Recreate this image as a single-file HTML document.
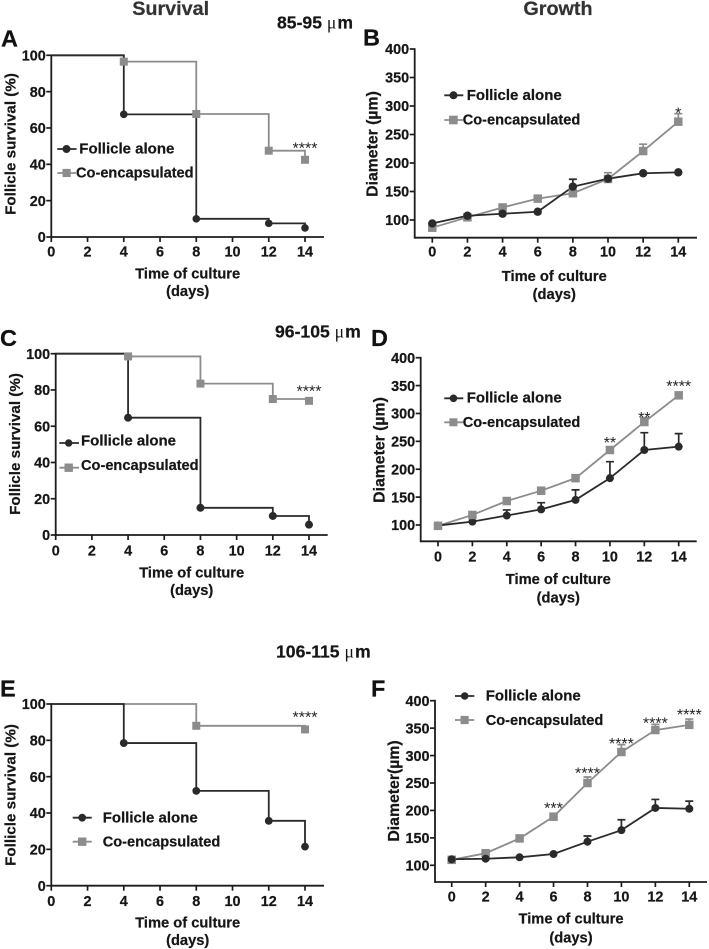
<!DOCTYPE html>
<html lang="en">
<head>
<meta charset="utf-8">
<title>Follicle survival and growth</title>
<style>
html,body{margin:0;padding:0;background:#fff;width:709px;height:949px;overflow:hidden}
svg{display:block;filter:blur(.3px)}
text{font-family:"Liberation Sans",Arial,sans-serif;font-weight:bold;fill:#161616;stroke:#161616;stroke-width:.22px}
.tick{font-size:14.4px}
.axt{font-size:14.7px;text-anchor:middle}
.yt{font-size:15.2px;text-anchor:middle}
.leg{font-size:15px}
.leg2{font-size:14.6px}
.let{font-size:23.5px;fill:#111;stroke:#111}
.head{font-size:19.8px;text-anchor:middle;fill:#333;stroke:#333}
.rng{font-size:17.6px}
.mu{font-family:"Liberation Serif",serif;font-weight:normal;stroke-width:0}
.sig{font-size:16px;font-weight:normal;text-anchor:middle;fill:#222;stroke-width:0}
.k{stroke:#2a2a2a;fill:#2a2a2a}
.g{stroke:#8c8c8c;fill:#8c8c8c}
.ll{stroke-width:1.8;fill:none}
</style>
</head>
<body>
<svg id="figure" width="709" height="949" viewBox="0 0 709 949" xmlns="http://www.w3.org/2000/svg">
  <text class="head" x="170.7" y="15">Survival</text>
  <text class="head" x="558" y="15">Growth</text>
  <text class="rng" x="277" y="28.3">85-95 <tspan class="mu">μ</tspan><tspan dx="1">m</tspan></text>
  <text class="rng" x="275" y="337.3">96-105 <tspan class="mu">μ</tspan><tspan dx="1">m</tspan></text>
  <text class="rng" x="276" y="657.3">106-115 <tspan class="mu">μ</tspan><tspan dx="1">m</tspan></text>

  <text class="let" x="1" y="46.7">A</text>
  <text class="let" x="363" y="45.7">B</text>
  <text class="let" x="0" y="346">C</text>
  <text class="let" x="371" y="346">D</text>
  <text class="let" x="0" y="696.7">E</text>
  <text class="let" x="371" y="696.7">F</text>

  <text class="yt" transform="translate(15.7 144) rotate(-90)">Follicle survival (%)</text>
  <text class="yt" transform="translate(20 444) rotate(-90)">Follicle survival (%)</text>
  <text class="yt" transform="translate(15.7 795) rotate(-90)">Follicle survival (%)</text>
  <text class="yt" style="font-size:15.8px" transform="translate(377.7 144) rotate(-90)">Diameter (µm)</text>
  <text class="yt" style="font-size:15.8px" transform="translate(384.3 450) rotate(-90)">Diameter (µm)</text>
  <text class="yt" style="font-size:15.8px" transform="translate(399 791) rotate(-90)">Diameter(µm)</text>

  <g><text class="axt" x="187.7" y="278.3">Time of culture</text><text class="axt" x="187.7" y="296">(days)</text></g>
  <g><text class="axt" x="554.3" y="281">Time of culture</text><text class="axt" x="554.3" y="299">(days)</text></g>
  <g><text class="axt" x="191.7" y="577.7">Time of culture</text><text class="axt" x="191.7" y="595">(days)</text></g>
  <g><text class="axt" x="558.3" y="584">Time of culture</text><text class="axt" x="558.3" y="602.3">(days)</text></g>
  <g><text class="axt" x="187.7" y="927.7">Time of culture</text><text class="axt" x="187.7" y="945">(days)</text></g>
  <g><text class="axt" x="571" y="923.3">Time of culture</text><text class="axt" x="571" y="942.3">(days)</text></g>

  <g>
    <g><line class="k ll" x1="57.3" x2="76.6" y1="149" y2="149"/><circle class="k" stroke="none" cx="66.5" cy="149" r="3.5"/><text class="leg" x="79.3" y="153.5">Follicle alone</text></g>
    <g><line class="g ll" x1="57.3" x2="76" y1="173" y2="173"/><rect class="g" x="63" y="169.4" width="7.2" height="7.2"/><text class="leg2" x="76" y="177.7">Co-encapsulated</text></g>
  </g>
  <g>
    <g><line class="k ll" x1="444.3" x2="463.3" y1="95.3" y2="95.3"/><circle class="k" cx="453.5" cy="95.3" r="3.5"/><text class="leg" x="466.7" y="100">Follicle alone</text></g>
    <g><line class="g ll" x1="444.3" x2="463" y1="120" y2="120"/><rect class="g" x="449.6" y="116.2" width="7.6" height="7.6"/><text class="leg2" x="462.7" y="124.3">Co-encapsulated</text></g>
  </g>
  <g>
    <g><line class="k ll" x1="59.3" x2="79" y1="443" y2="443"/><circle class="k" cx="68.7" cy="443" r="3.2"/><text class="leg" x="81" y="445.7">Follicle alone</text></g>
    <g><line class="g ll" x1="59.3" x2="79" y1="467.7" y2="467.7"/><rect class="g" x="65" y="464" width="7.4" height="7.4"/><text class="leg2" x="81" y="470">Co-encapsulated</text></g>
  </g>
  <g>
    <g><line class="k ll" x1="444.3" x2="463.3" y1="398.3" y2="398.3"/><circle class="k" cx="453.5" cy="398.3" r="3.3"/><text class="leg" x="466.7" y="402.7">Follicle alone</text></g>
    <g><line class="g ll" x1="444.3" x2="463" y1="422.3" y2="422.3"/><rect class="g" x="449.9" y="418.8" width="7" height="7"/><text class="leg2" x="462.7" y="427">Co-encapsulated</text></g>
  </g>
  <g>
    <g><line class="k ll" x1="72.7" x2="91.7" y1="817.7" y2="817.7"/><circle class="k" cx="82.2" cy="817.7" r="3.4"/><text class="leg" x="102.7" y="822.3">Follicle alone</text></g>
    <g><line class="g ll" x1="72.7" x2="91.7" y1="841.7" y2="841.7"/><rect class="g" x="78.5" y="838" width="7.4" height="7.4"/><text class="leg2" x="102.7" y="846.7">Co-encapsulated</text></g>
  </g>
  <g>
    <g><line class="k ll" x1="455" x2="474.3" y1="696" y2="696"/><circle class="k" cx="464.7" cy="696" r="3.3"/><text class="leg" x="485.7" y="700.7">Follicle alone</text></g>
    <g><line class="g ll" x1="455" x2="474.3" y1="720" y2="720"/><rect class="g" x="461" y="716.4" width="7.2" height="7.2"/><text class="leg2" x="485.7" y="725">Co-encapsulated</text></g>
  </g>
  <g id="charts"></g>
</svg>

<script>
// Shared tick labels
const survivalXTicks = [0, 2, 4, 6, 8, 10, 12, 14];
const survivalYTicks = [0, 20, 40, 60, 80, 100];
const growthXTicks = [0, 2, 4, 6, 8, 10, 12, 14];
const growthYTicks = [100, 150, 200, 250, 300, 350, 400];
const growthDays = [0, 2, 4, 6, 8, 10, 12, 14];

// Panel A: survival 85-95 um
const aFollicleDays = [0, 4, 8, 12, 14];
const aFollicleSurvival = [100, 67.5, 10, 7.5, 5];
const aCoDays = [0, 4, 8, 12, 14];
const aCoSurvival = [100, 96.5, 67.7, 47.5, 42.5];
const aSigDays = [14];
const aSigLevels = [51.2];
const aSigLabels = ['****'];

// Panel B: growth 85-95 um
const bFollicleDiameter = [94, 107.5, 111, 114.5, 158.5, 172.5, 182, 183.6];
const bFollicleError = [0, 0, 0, 0, 13, 0, 0, 0];
const bCoDiameter = [86.5, 104.7, 122, 137.5, 147, 172, 221, 272.5];
const bCoError = [0, 0, 0, 0, 0, 11, 12, 14];
const bSigDays = [14];
const bSigLevels = [294];
const bSigLabels = ['*'];

// Panel C: survival 96-105 um
const cFollicleDays = [0, 4, 8, 12, 14];
const cFollicleSurvival = [100, 64.7, 15, 10.5, 5.7];
const cCoDays = [0, 4, 8, 12, 14];
const cCoSurvival = [100, 98.5, 83.5, 75, 74];
const cSigDays = [14];
const cSigLevels = [81.4];
const cSigLabels = ['****'];

// Panel D: growth 96-105 um
const dFollicleDiameter = [99, 106, 117, 128, 145, 184, 234.5, 240.5];
const dFollicleError = [0, 0, 10, 12, 18, 29.5, 31, 23.3];
const dCoDiameter = [98.5, 118, 143, 161.5, 184, 234.5, 284.7, 332.5];
const dCoError = [0, 0, 0, 0, 0, 0, 8, 5];
const dSigDays = [10, 12, 14];
const dSigLevels = [255, 300, 356];
const dSigLabels = ['**', '**', '****'];

// Panel E: survival 106-115 um
const eFollicleDays = [0, 4, 8, 12, 14];
const eFollicleSurvival = [100, 78.5, 52.2, 35.7, 21.5];
const eCoDays = [0, 8, 14];
const eCoSurvival = [100, 88, 86];
const eSigDays = [14];
const eSigLevels = [94.9];
const eSigLabels = ['****'];

// Panel F: growth 106-115 um
const fFollicleDiameter = [111, 112, 114.6, 120.6, 143, 164, 204.5, 203];
const fFollicleError = [0, 0, 0, 0, 10.4, 19, 15.5, 14];
const fCoDiameter = [110, 122, 149, 188.6, 250, 306.5, 346.5, 356];
const fCoError = [0, 0, 0, 0, 11, 13.5, 10.5, 10.5];
const fSigDays = [6, 8, 10, 12, 14];
const fSigLevels = [211.7, 275, 329, 366.5, 382];
const fSigLabels = ['***', '****', '****', '****', '****'];

const NS = 'http://www.w3.org/2000/svg';
const root = document.getElementById('charts');
const BLACK = '#2a2a2a';
const GRAY = '#8c8c8c';

function linear(d0, d1, r0, r1) {
  return function (v) { return r0 + (v - d0) * (r1 - r0) / (d1 - d0); };
}

function svgEl(parent, tag, attrs) {
  const el = document.createElementNS(NS, tag);
  for (const key in attrs) el.setAttribute(key, attrs[key]);
  parent.appendChild(el);
  return el;
}

function drawAxes(g, p, xTicks, yTicks, xs, ys) {
  const yAxis = svgEl(g, 'line', {x1: p.left, x2: p.left, y1: ys(yTicks[yTicks.length - 1]) - 0.8, y2: p.bottom + 0.9, stroke: '#1c1c1c', 'stroke-width': 1.8});
  
  
  const xAxis = svgEl(g, 'line', {x1: p.left, x2: p.right, y1: p.bottom, y2: p.bottom, stroke: '#1c1c1c', 'stroke-width': 1.8});
  
  
  xTicks.forEach(function (t) {
    const tick = svgEl(g, 'line', {x1: xs(t), x2: xs(t), y1: p.bottom, y2: p.bottom + 5, stroke: '#1c1c1c', 'stroke-width': 1.7});
    
    
    const label = svgEl(g, 'text', {x: xs(t), y: p.xLabelY, 'text-anchor': 'middle', 'class': 'tick'});
    label.textContent = t;
    
    
  });
  yTicks.forEach(function (t) {
    const tick = svgEl(g, 'line', {x1: p.left - 5, x2: p.left, y1: ys(t), y2: ys(t), stroke: '#1c1c1c', 'stroke-width': 1.7});
    
    
    const label = svgEl(g, 'text', {x: p.left - 5.5, y: ys(t) + 5.2, 'text-anchor': 'end', 'class': 'tick'});
    label.textContent = t;
    
    
  });
}

function drawCircle(g, cx, cy, r) {
  const dot = svgEl(g, 'circle', {cx: cx, cy: cy, r: r, fill: BLACK});
  
  
}

function drawSquare(g, cx, cy, s) {
  const box = svgEl(g, 'rect', {x: cx - s / 2, y: cy - s / 2, width: s, height: s, fill: GRAY});
  
  
}

function drawSig(g, days, levels, labels, xs, ys) {
  days.forEach(function (d, i) {
    const star = svgEl(g, 'text', {x: xs(d), y: ys(levels[i]) + 9.3, 'class': 'sig'});
    star.textContent = labels[i];
    
    
  });
}

function stepPath(days, values, xs, ys) {
  let d = 'M' + xs(days[0]) + ' ' + ys(values[0]);
  for (let i = 1; i < days.length; i++) {
    d += 'H' + xs(days[i]) + 'V' + ys(values[i]);
  }
  return d;
}

function drawSurvival(p, fDays, fVals, cDays, cVals, sigDays, sigLevels, sigLabels) {
  const g = svgEl(root, 'g', {});
  
  
  const xs = linear(0, 14, p.x0, p.x14);
  const ys = linear(0, 100, p.bottom, p.top);
  const coLine = svgEl(g, 'path', {d: stepPath(cDays, cVals, xs, ys), fill: 'none', stroke: GRAY, 'stroke-width': 1.8});
  
  
  const fLine = svgEl(g, 'path', {d: stepPath(fDays, fVals, xs, ys), fill: 'none', stroke: BLACK, 'stroke-width': 1.8});
  
  
  drawAxes(g, p, survivalXTicks, survivalYTicks, xs, ys);
  for (let i = 1; i < fDays.length; i++) drawCircle(g, xs(fDays[i]), ys(fVals[i]), p.r);
  for (let i = 1; i < cDays.length; i++) drawSquare(g, xs(cDays[i]), ys(cVals[i]), p.s);
  drawSig(g, sigDays, sigLevels, sigLabels, xs, ys);
}

function drawErrors(g, values, errors, color, xs, ys) {
  growthDays.forEach(function (d, i) {
    if (!errors[i]) return;
    const x = xs(d), yTop = ys(values[i] + errors[i]);
    const bar = svgEl(g, 'path', {d: 'M' + x + ' ' + ys(values[i]) + 'V' + yTop + 'M' + (x - 4) + ' ' + yTop + 'H' + (x + 4), fill: 'none', stroke: color, 'stroke-width': 1.7});
    
    
  });
}

function linePath(values, xs, ys) {
  return growthDays.map(function (d, i) {
    return (i ? 'L' : 'M') + xs(d) + ' ' + ys(values[i]);
  }).join('');
}

function drawGrowth(p, fVals, fErr, cVals, cErr, sigDays, sigLevels, sigLabels) {
  const g = svgEl(root, 'g', {});
  
  
  const xs = linear(0, 14, p.x0, p.x14);
  const ys = linear(100, 400, p.y100, p.y400);
  drawAxes(g, p, growthXTicks, growthYTicks, xs, ys);
  drawErrors(g, cVals, cErr, GRAY, xs, ys);
  drawErrors(g, fVals, fErr, BLACK, xs, ys);
  const coLine = svgEl(g, 'path', {d: linePath(cVals, xs, ys), fill: 'none', stroke: GRAY, 'stroke-width': 1.8});
  
  
  const fLine = svgEl(g, 'path', {d: linePath(fVals, xs, ys), fill: 'none', stroke: BLACK, 'stroke-width': 1.8});
  
  
  const squares = function () { growthDays.forEach(function (d, i) { drawSquare(g, xs(d), ys(cVals[i]), p.s); }); };
  const circles = function () { growthDays.forEach(function (d, i) { drawCircle(g, xs(d), ys(fVals[i]), p.r); }); };
  if (p.grayOnTop) { circles(); squares(); } else { squares(); circles(); }
  drawSig(g, sigDays, sigLevels, sigLabels, xs, ys);
}

drawSurvival({name: 'panel-a-survival', x0: 51.3, x14: 305, left: 51.3, right: 324, top: 55.3, bottom: 237, xLabelY: 256.7, r: 3.8, s: 8},
  aFollicleDays, aFollicleSurvival, aCoDays, aCoSurvival, aSigDays, aSigLevels, aSigLabels);
drawSurvival({name: 'panel-c-survival', x0: 55.7, x14: 309, left: 55.7, right: 327.7, top: 353.7, bottom: 535, xLabelY: 555.7, r: 4, s: 8},
  cFollicleDays, cFollicleSurvival, cCoDays, cCoSurvival, cSigDays, cSigLevels, cSigLabels);
drawSurvival({name: 'panel-e-survival', x0: 51.3, x14: 305, left: 51.3, right: 324, top: 704, bottom: 885.7, xLabelY: 906, r: 3.9, s: 8},
  eFollicleDays, eFollicleSurvival, eCoDays, eCoSurvival, eSigDays, eSigLevels, eSigLabels);
drawGrowth({name: 'panel-b-growth', x0: 432.3, x14: 678.3, left: 414.7, right: 697, y100: 220, y400: 49, bottom: 237.7, xLabelY: 256.7, r: 4.2, s: 8.5, grayOnTop: false},
  bFollicleDiameter, bFollicleError, bCoDiameter, bCoError, bSigDays, bSigLevels, bSigLabels);
drawGrowth({name: 'panel-d-growth', x0: 438, x14: 678.7, left: 420.7, right: 696.7, y100: 525, y400: 357.7, bottom: 541.3, xLabelY: 561.7, r: 4, s: 8.5, grayOnTop: true},
  dFollicleDiameter, dFollicleError, dCoDiameter, dCoError, dSigDays, dSigLevels, dSigLabels);
drawGrowth({name: 'panel-f-growth', x0: 451.7, x14: 689.3, left: 435, right: 707, y100: 865.3, y400: 700.7, bottom: 882, xLabelY: 901.7, r: 4, s: 8.5, grayOnTop: false},
  fFollicleDiameter, fFollicleError, fCoDiameter, fCoError, fSigDays, fSigLevels, fSigLabels);
</script>
</body>
</html>
